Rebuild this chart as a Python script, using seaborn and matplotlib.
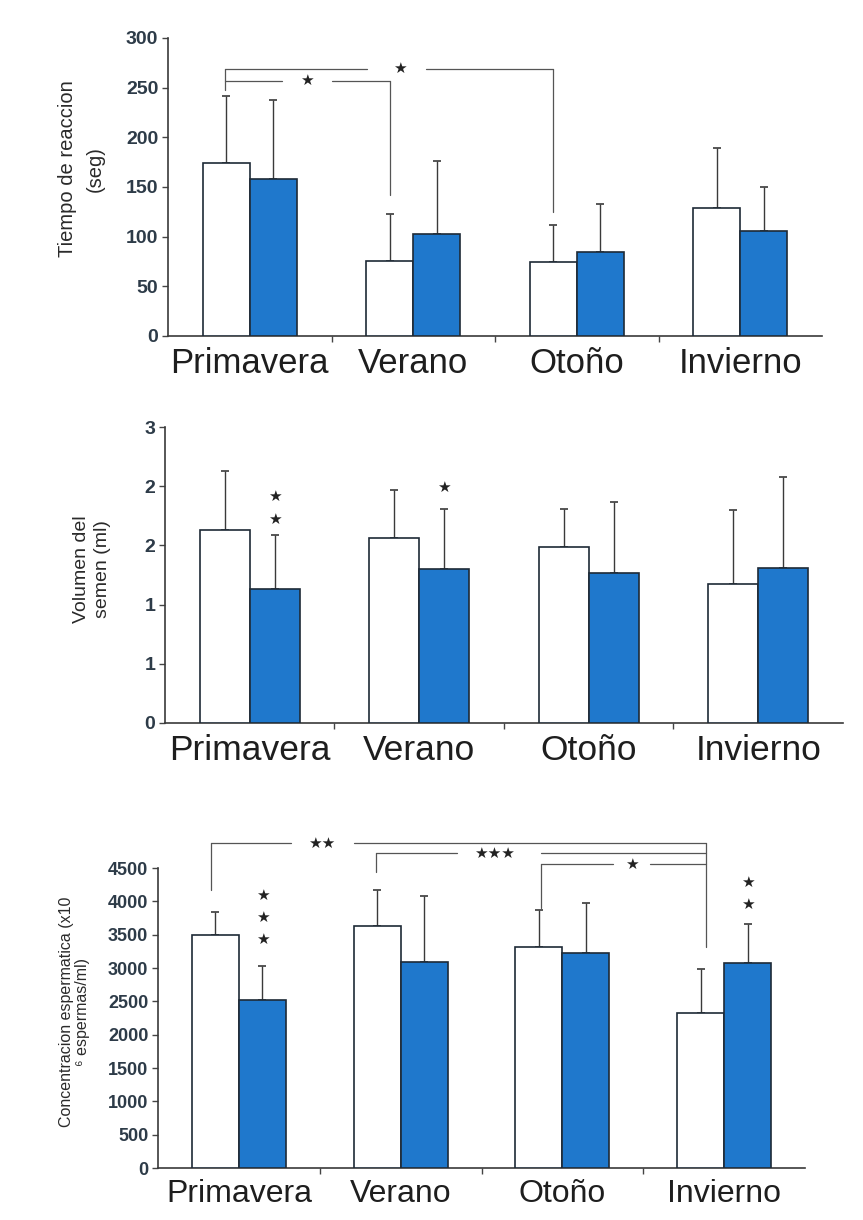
import numpy as np
import pandas as pd
import matplotlib
matplotlib.use("Agg")
import matplotlib.pyplot as plt
import seaborn as sns

# ---------------- data ----------------
seasons = ["Primavera", "Verano", "Otoño", "Invierno"]
groups = ["Grupo A", "Grupo B"]

# Panel 1: tiempo de reaccion (seg)
reaccion_a = [174, 75, 74, 129]
reaccion_b = [158, 103, 85, 106]
reaccion_sd_a = [68, 48, 38, 60]
reaccion_sd_b = [80, 73, 48, 44]
reaccion_ticks = [0, 50, 100, 150, 200, 250, 300]
reaccion_ticklabels = ["0", "50", "100", "150", "200", "250", "300"]

# Panel 2: volumen del semen (ml)
volumen_a = [1.63, 1.56, 1.49, 1.17]
volumen_b = [1.13, 1.30, 1.27, 1.31]
volumen_sd_a = [0.50, 0.41, 0.32, 0.63]
volumen_sd_b = [0.46, 0.51, 0.60, 0.77]
volumen_ticks = [0, 0.5, 1.0, 1.5, 2.0, 2.5]
volumen_ticklabels = ["0", "1", "1", "2", "2", "3"]

# Panel 3: concentracion espermatica
conc_a = [3500, 3630, 3315, 2325]
conc_b = [2520, 3090, 3225, 3075]
conc_sd_a = [340, 540, 555, 660]
conc_sd_b = [510, 990, 750, 585]
conc_ticks = [0, 500, 1000, 1500, 2000, 2500, 3000, 3500, 4000, 4500]
conc_ticklabels = [str(t) for t in conc_ticks]

BLUE = "#1f78cc"
EDGE = "#1e2a36"
TICKC = "#2d3b48"

sns.set_style("ticks")
plt.rcParams["font.family"] = ["Liberation Sans", "DejaVu Sans"]

fig = plt.figure(figsize=(8.63, 12.2), dpi=100)
fig.patch.set_facecolor("white")


def make_df(a, b):
    return pd.DataFrame({
        "season": seasons * 2,
        "group": [groups[0]] * 4 + [groups[1]] * 4,
        "value": list(a) + list(b),
    })


def panel(rect, a, b, sda, sdb, ylim, ticks, ticklabels, ylabel, ylabel_size,
          label_xy, xlabel_size, tick_size, width, lsp):
    ax = fig.add_axes(rect)
    df = make_df(a, b)
    sns.barplot(data=df, x="season", y="value", hue="group", order=seasons,
                hue_order=groups, palette={groups[0]: "white", groups[1]: BLUE},
                saturation=1, edgecolor=EDGE, linewidth=1.2, width=width,
                gap=0, errorbar=None, legend=False, ax=ax, zorder=3)
    sds = {0: sda, 1: sdb}
    for p in ax.patches:
        cx = p.get_x() + p.get_width() / 2
        i = int(round(cx))
        h = p.get_height()
        if np.isnan(h) or h == 0:
            continue
        hue = 0 if cx < i else 1
        ax.errorbar([cx], [h], yerr=[[0], [sds[hue][i]]], fmt="none",
                    ecolor="#3a3a3a", elinewidth=1.0, capsize=3, capthick=1.2,
                    zorder=2)
    ax.set_xlim(-0.5, 3.5)
    ax.set_ylim(*ylim)
    ax.set_yticks(ticks)
    ax.set_yticklabels(ticklabels, fontsize=tick_size, fontweight="bold",
                       color=TICKC)
    ax.set_xticks(range(4))
    ax.set_xticklabels(seasons, fontsize=xlabel_size, color="#1e1e1e")
    ax.set_xticks([0.5, 1.5, 2.5], minor=True)
    ax.tick_params(axis="x", which="major", length=0, pad=8)
    ax.tick_params(axis="x", which="minor", length=4, width=1, color="#444")
    ax.tick_params(axis="y", length=4, width=1, color="#444", pad=3)
    ax.set_xlabel("")
    ax.set_ylabel(ylabel, fontsize=ylabel_size, color="#2a2a2a",
                  linespacing=lsp)
    ax.yaxis.set_label_coords(*label_xy)
    sns.despine(ax=ax)
    for s in ("left", "bottom"):
        ax.spines[s].set_color("#3a3a3a")
        ax.spines[s].set_linewidth(1.2)
    return ax


LINEC = "#555555"
STAR = 11


def bracket_line(ax, x1, x2, y, gap, star, star_x):
    kw = dict(color=LINEC, lw=0.9, clip_on=False, zorder=4)
    ax.plot([x1, gap[0]], [y, y], **kw)
    ax.plot([gap[1], x2], [y, y], **kw)
    ax.text(star_x, y, star, ha="center", va="center", fontsize=STAR,
            color="#222", family="DejaVu Sans", clip_on=False)


# ---------------- Panel 1 ----------------
ax1 = panel([0.1947, 0.7246, 0.758, 0.2443], reaccion_a, reaccion_b,
            reaccion_sd_a, reaccion_sd_b, (0, 300), reaccion_ticks,
            reaccion_ticklabels, "Tiempo de reaccion\n(seg)", 14.5,
            (-0.097, 0.56), 25, 14, 0.575, 1.55)
kw = dict(color=LINEC, lw=0.9, clip_on=False, zorder=4)
ax1.plot([-0.153, -0.153], [248, 269], **kw)
bracket_line(ax1, -0.153, 1.857, 269, (0.715, 1.08), "★", 0.92)
ax1.plot([1.857, 1.857], [269, 125], **kw)
bracket_line(ax1, -0.153, 0.855, 257, (0.195, 0.50), "★", 0.35)
ax1.plot([0.855, 0.855], [257, 142], **kw)

# ---------------- Panel 2 ----------------
ax2 = panel([0.1912, 0.4074, 0.7856, 0.2426], volumen_a, volumen_b,
            volumen_sd_a, volumen_sd_b, (0, 2.5), volumen_ticks,
            volumen_ticklabels, "Volumen del\nsemen (ml)", 14,
            (-0.08, 0.52), 25.5, 14, 0.59, 1.3)
for (x, y) in [(0.145, 1.91), (0.145, 1.72), (1.145, 1.99)]:
    ax2.text(x, y, "★", ha="center", va="center", fontsize=STAR,
             color="#222", family="DejaVu Sans")

# ---------------- Panel 3 ----------------
ax3 = panel([0.1831, 0.0426, 0.7497, 0.2459], conc_a, conc_b,
            conc_sd_a, conc_sd_b, (0, 4500), conc_ticks, conc_ticklabels,
            "Concentracion espermatica (x10\n⁶ espermas/ml)", 11.5,
            (-0.105, 0.52), 23, 13, 0.58, 1.1)
ax3.plot([-0.173, -0.173], [4170, 4875], **kw)
bracket_line(ax3, -0.173, 2.89, 4875, (0.32, 0.71), "★★", 0.51)
ax3.plot([0.847, 0.847], [4440, 4725], **kw)
bracket_line(ax3, 0.847, 2.89, 4725, (1.35, 1.87), "★★★", 1.58)
ax3.plot([1.87, 1.87], [3900, 4560], **kw)
bracket_line(ax3, 1.87, 2.89, 4560, (2.31, 2.54), "★", 2.43)
ax3.plot([2.89, 2.89], [4875, 3315], **kw)
for (x, y) in [(0.145, 4095), (0.145, 3765), (0.145, 3435),
               (3.145, 4290), (3.145, 3960)]:
    ax3.text(x, y, "★", ha="center", va="center", fontsize=STAR,
             color="#222", family="DejaVu Sans")

fig.savefig("out.png", dpi=100, facecolor="white")
